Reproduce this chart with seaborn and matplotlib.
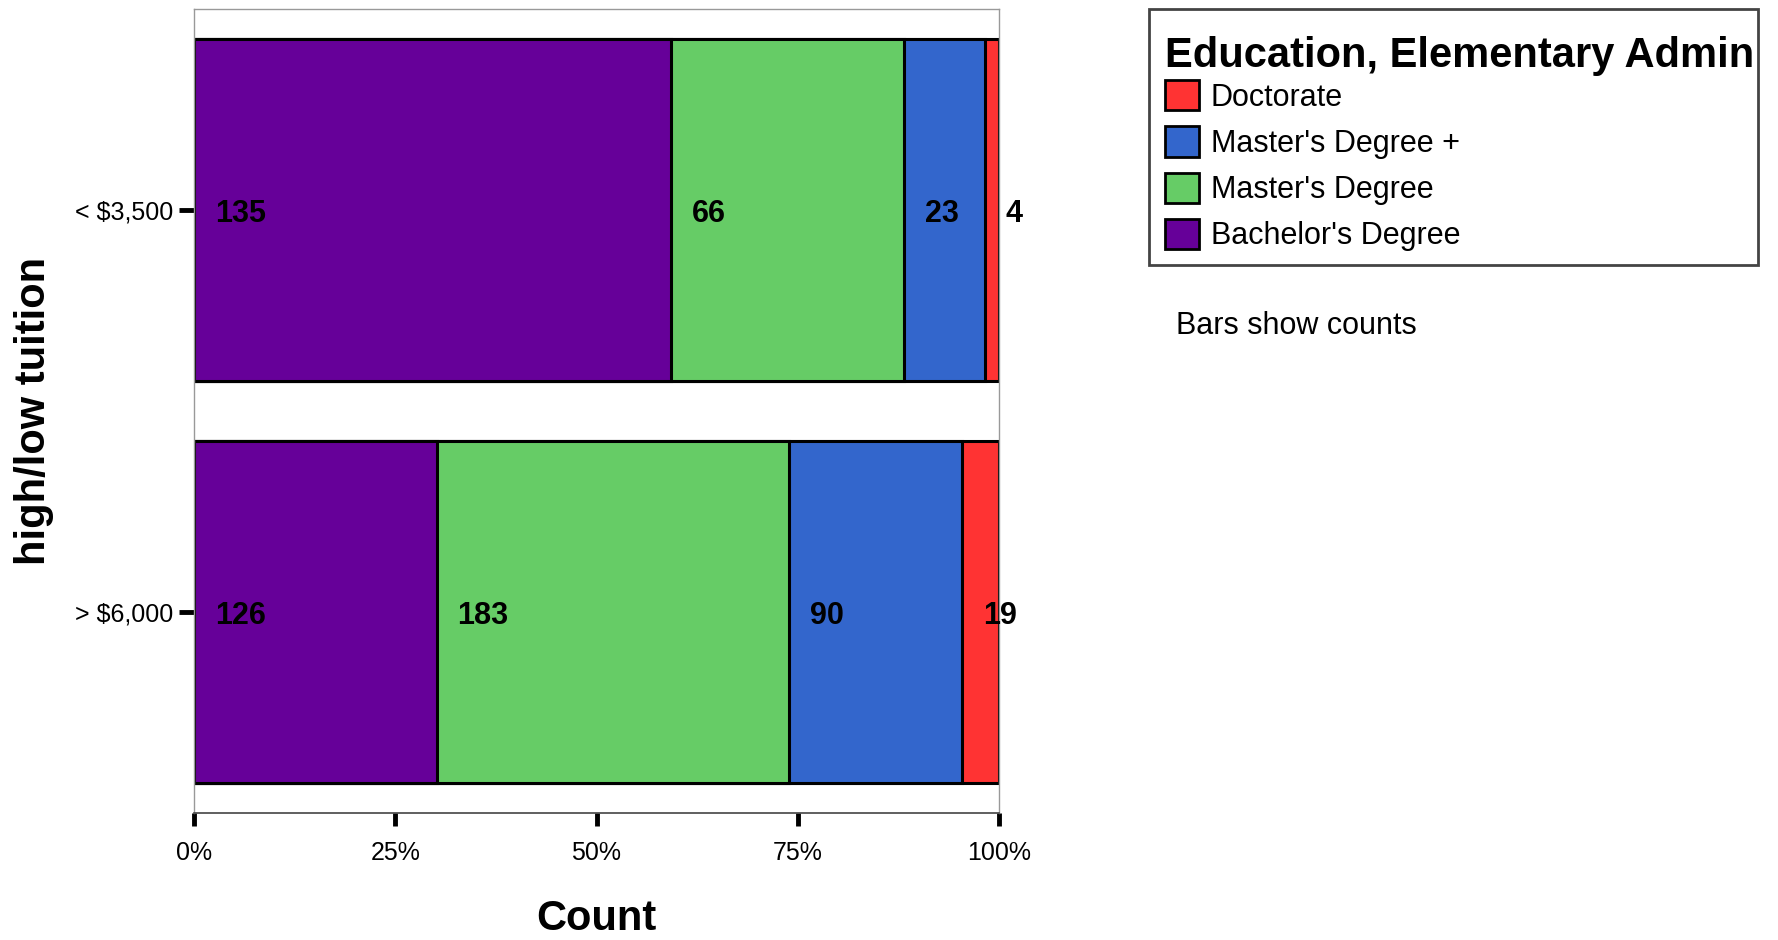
import matplotlib
matplotlib.use("Agg")
import matplotlib.pyplot as plt
import seaborn as sns
import pandas as pd
import numpy as np
from matplotlib.patches import Patch, Rectangle

# ---- data ----
tuition = ["< $3,500", "> $6,000"]
bachelor = [135, 126]
masters = [66, 183]
masters_plus = [23, 90]
doctorate = [4, 19]
levels = ["Bachelor's Degree", "Master's Degree", "Master's Degree +", "Doctorate"]
colors = {"Bachelor's Degree": "#660099", "Master's Degree": "#66CC66",
          "Master's Degree +": "#3366CC", "Doctorate": "#FF3333"}
xtick_vals = [0, 0.25, 0.5, 0.75, 1.0]
xtick_labels = ["0%", "25%", "50%", "75%", "100%"]
legend_title = "Education, Elementary Admin"

sns.set_theme(style="white")
plt.rcParams['font.family'] = ['Liberation Sans', 'DejaVu Sans']
plt.rcParams['text.color'] = 'black'
plt.rcParams['axes.labelcolor'] = 'black'
plt.rcParams['xtick.color'] = 'black'
plt.rcParams['ytick.color'] = 'black'

counts = pd.DataFrame({"Bachelor's Degree": bachelor, "Master's Degree": masters,
                       "Master's Degree +": masters_plus, "Doctorate": doctorate},
                      index=tuition)
frac = counts.div(counts.sum(axis=1), axis=0)
cum = frac.cumsum(axis=1)
starts = cum - frac

W, H = 1778, 940
fig = plt.figure(figsize=(W/100, H/100), dpi=100)
ax = fig.add_axes([194/W, 1-813/H, (999-194)/W, (813-9)/H])

# draw cumulative bars from the widest (rightmost) level down
for lvl in reversed(levels):
    df = pd.DataFrame({"tuition": tuition, "value": cum[lvl].values})
    sns.barplot(data=df, x="value", y="tuition", orient="h", color=colors[lvl],
                saturation=1, width=0.85, edgecolor="black", linewidth=2.2, ax=ax)

# value labels
for i, t in enumerate(tuition):
    for lvl in levels:
        ax.annotate(str(counts.loc[t, lvl]), xy=(starts.loc[t, lvl], i),
                    xytext=(15, 0), textcoords="offset points",
                    ha="left", va="center_baseline", fontsize=22, fontweight="bold", color="black")

ax.set_xlim(0, 1)
ax.set_ylim(1.5, -0.5)
ax.set_xticks(xtick_vals)
ax.set_xticklabels(xtick_labels, fontsize=18)
ax.set_yticks(range(len(tuition)))
ax.set_yticklabels(tuition, fontsize=18)
ax.tick_params(axis="x", bottom=True, direction="out", length=9, width=3.5, color="black", pad=11)
ax.tick_params(axis="y", left=True, direction="out", length=11, width=3.5, color="black", pad=4)
for lab in ax.get_yticklabels():
    lab.set_va("center_baseline")
for s in ["top", "right", "left"]:
    ax.spines[s].set_color("#999999")
    ax.spines[s].set_linewidth(1)
ax.spines["bottom"].set_color("#444444")
ax.spines["bottom"].set_linewidth(1.2)

ax.set_xlabel("Count", fontsize=30, fontweight="bold", labelpad=25)
ax.set_ylabel("high/low tuition", fontsize=30, fontweight="bold", labelpad=15)

# legend frame, title and entries
fig.patches.append(Rectangle((1149/W, 1-265/H), (1758-1149)/W, (265-9)/H,
                             transform=fig.transFigure, fill=False,
                             edgecolor="#444444", linewidth=2))
fig.text(1165/W, 1-52/H, legend_title, fontsize=30, fontweight="bold",
         ha="left", va="center_baseline")
handles = [Patch(facecolor=colors[l], edgecolor="black", linewidth=2, label=l)
           for l in reversed(levels)]
leg = ax.legend(handles=handles, loc="upper left", bbox_to_anchor=(1165/W, 1-80/H),
                bbox_transform=fig.transFigure, fontsize=22,
                frameon=False, handlelength=1.1, handleheight=1.15, handletextpad=0.4,
                labelspacing=0.45, borderpad=0, borderaxespad=0)

fig.text(1176/W, 1-326/H, "Bars show counts", fontsize=22, va="center", ha="left")

fig.savefig("out.png", dpi=100, facecolor="white")
